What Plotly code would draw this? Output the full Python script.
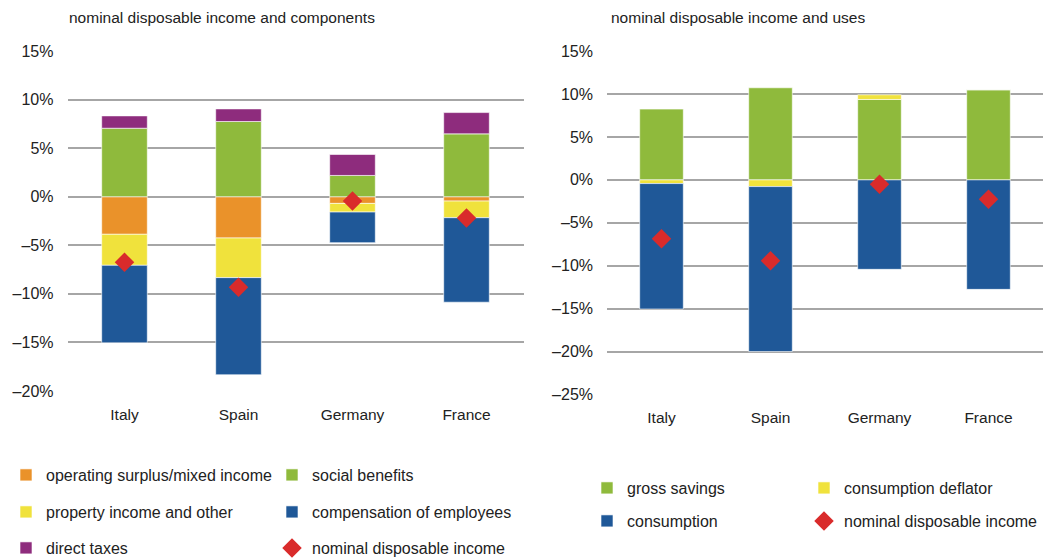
import plotly.graph_objects as go

countries = ["Italy", "Spain", "Germany", "France"]

# Left panel: components (percent)
operating_surplus = [-3.87, -4.25, -0.69, -0.45]
social_benefits = [7.05, 7.74, 2.19, 6.47]
property_income = [-3.19, -4.08, -0.89, -1.71]
compensation = [-7.98, -10.0, -3.15, -8.70]
direct_taxes = [1.27, 1.30, 2.16, 2.19]
ndi_left = [-6.75, -9.32, -0.45, -2.20]

# Right panel: uses (percent)
gross_savings = [8.24, 10.72, 9.36, 10.49]
consumption_deflator = [-0.43, -0.78, 0.54, 0.0]
consumption = [-14.6, -19.2, -10.41, -12.74]
ndi_right = [-6.85, -9.4, -0.52, -2.25]

left_ticks = [15, 10, 5, 0, -5, -10, -15, -20]
left_ticktext = ["15%", "10%", "5%", "0%", "–5%", "–10%", "–15%", "–20%"]
right_ticks = [15, 10, 5, 0, -5, -10, -15, -20, -25]
right_ticktext = ["15%", "10%", "5%", "0%", "–5%", "–10%", "–15%", "–20%", "–25%"]

C_ORANGE = "#EA922A"
C_GREEN = "#8FBA3C"
C_YELLOW = "#F0E23C"
C_BLUE = "#1F5898"
C_PURPLE = "#8E2C7D"
C_RED = "#D92B2B"

FONT = "Liberation Sans"
TXT = "#222222"
# the page body has an 8px margin, so the figure is drawn 8px in from the window corner
OFF = 8
W, H = 1064 - OFF, 560 - OFF

def px_x(p):
    return (p - OFF) / W

def px_y(p):
    return 1 - (p - OFF) / H

fig = go.Figure()
line = dict(color="rgba(255,255,255,0.6)", width=1)

legends = {}
LEFT_C1, LEFT_C2 = 6, 272
RIGHT_C1, RIGHT_C2 = 587, 804

def leg_at(x, y):
    key = "legend" if not legends else "legend%d" % (len(legends) + 1)
    legends[key] = dict(orientation="v", x=px_x(x), xanchor="left", y=px_y(y), yanchor="middle",
                        itemwidth=30, font=dict(family=FONT, size=16, color=TXT),
                        bgcolor="rgba(0,0,0,0)")
    return key

def bar(name, y, color, xa, ya, lx, ly):
    fig.add_trace(go.Bar(name=name, x=countries, y=y, marker=dict(color=color, line=line),
                         xaxis=xa, yaxis=ya, legend=leg_at(lx, ly)))

def dia(y, xa, ya, lx, ly):
    fig.add_trace(go.Scatter(name="nominal disposable income", x=countries, y=y, mode="markers",
                             marker=dict(symbol="diamond", size=15, color=C_RED),
                             xaxis=xa, yaxis=ya, legend=leg_at(lx, ly)))

# left panel (trace order sets the stacking order)
bar("operating surplus/mixed income", operating_surplus, C_ORANGE, "x", "y", LEFT_C1, 475)
bar("property income and other", property_income, C_YELLOW, "x", "y", LEFT_C1, 512)
bar("compensation of employees", compensation, C_BLUE, "x", "y", LEFT_C2, 512)
bar("social benefits", social_benefits, C_GREEN, "x", "y", LEFT_C2, 475)
bar("direct taxes", direct_taxes, C_PURPLE, "x", "y", LEFT_C1, 548)
dia(ndi_left, "x", "y", LEFT_C2, 548)

# right panel
bar("gross savings", gross_savings, C_GREEN, "x2", "y2", RIGHT_C1, 488)
bar("consumption deflator", consumption_deflator, C_YELLOW, "x2", "y2", RIGHT_C2, 488)
bar("consumption", consumption, C_BLUE, "x2", "y2", RIGHT_C1, 521)
dia(ndi_right, "x2", "y2", RIGHT_C2, 521)

grid = dict(showgrid=True, gridcolor="#A6A6A6", gridwidth=1.5, zeroline=True,
            zerolinecolor="#A6A6A6", zerolinewidth=1.5, automargin=False,
            ticks="", ticklabelstandoff=13, fixedrange=True)
ytickfont = dict(family=FONT, size=16, color=TXT)
xtickfont = dict(family=FONT, size=15.5, color=TXT)
xcommon = dict(showgrid=False, showline=False, ticks="", tickfont=xtickfont,
               automargin=False, ticklabelstandoff=12, fixedrange=True)

fig.update_layout(
    width=W, height=H,
    margin=dict(l=0, r=0, t=0, b=0, autoexpand=False),
    paper_bgcolor="white", plot_bgcolor="white",
    barmode="relative", bargap=0.6,
    font=dict(family=FONT, size=15, color=TXT),
    showlegend=True,
    xaxis=dict(domain=[px_x(67.5), px_x(523.5)], anchor="y", **xcommon),
    yaxis=dict(domain=[px_y(391), px_y(51)], anchor="x", range=[-20, 15],
               tickvals=left_ticks, ticktext=left_ticktext, tickfont=ytickfont, **grid),
    xaxis2=dict(domain=[px_x(607), px_x(1043)], anchor="y2", **xcommon),
    yaxis2=dict(domain=[px_y(394.7), px_y(51)], anchor="x2", range=[-25, 15],
                tickvals=right_ticks, ticktext=right_ticktext, tickfont=ytickfont, **grid),
    **legends,
)

fig.add_annotation(text="nominal disposable income and components", x=px_x(67), y=px_y(18),
                   xref="paper", yref="paper", xanchor="left", yanchor="middle",
                   showarrow=False, font=dict(family=FONT, size=15.5, color=TXT))
fig.add_annotation(text="nominal disposable income and uses", x=px_x(609), y=px_y(18),
                   xref="paper", yref="paper", xanchor="left", yanchor="middle",
                   showarrow=False, font=dict(family=FONT, size=15.5, color=TXT))

fig.write_html("out.html")
